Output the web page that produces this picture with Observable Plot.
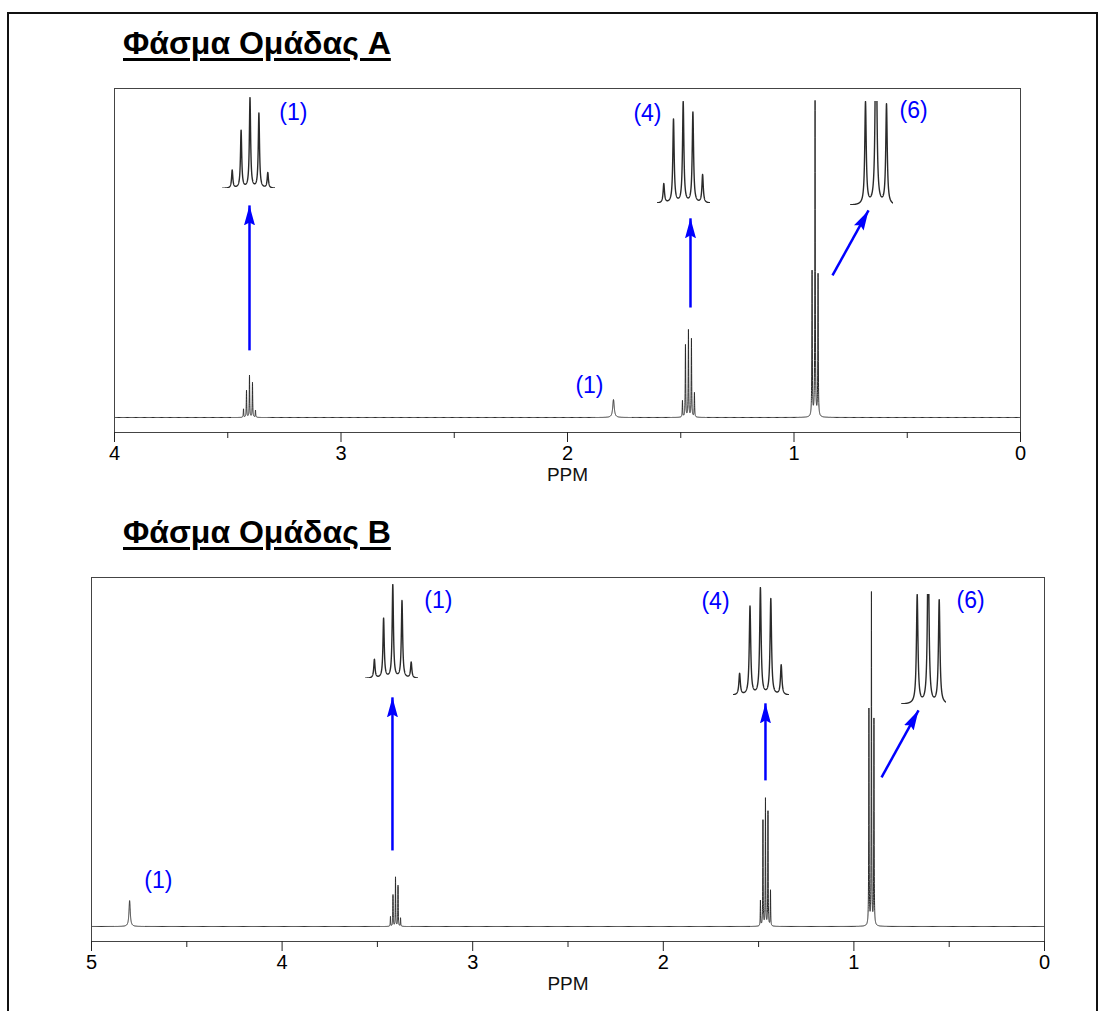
<!DOCTYPE html>
<html><head><meta charset="utf-8">
<script src="https://cdn.jsdelivr.net/npm/d3@7"></script>
<script src="https://cdn.jsdelivr.net/npm/@observablehq/plot@0.6"></script>
<style>
body{margin:0;background:#fff;font-family:"Liberation Sans",Arial,sans-serif;}
#page{position:relative;width:1104px;height:1011px;overflow:hidden;background:#fff;}
#border{position:absolute;left:7px;top:12px;width:1091px;height:1100px;border:2px solid #111;box-sizing:border-box;}
.title{position:absolute;left:123px;font-family:"Liberation Sans",Arial,sans-serif;font-weight:bold;font-size:32px;line-height:36px;text-decoration:underline;text-decoration-thickness:3px;text-underline-offset:4px;color:#000;white-space:nowrap;}
.abs{position:absolute;}
</style></head><body>
<div id="page">
  <div id="border"></div>
  <div class="title" id="titleA" style="top:25px">Φάσμα Ομάδας A</div>
  <div class="title" id="titleB" style="top:514px">Φάσμα Ομάδας B</div>
  <div class="abs" id="plotA" style="left:0;top:80px"></div>
  <div class="abs" id="plotB" style="left:0;top:568px"></div>
  <div id="insets"></div>
</div>
<script>
// ---------- data ----------
const coupling = 0.0132;                 // line spacing within a multiplet (ppm)

// Spectrum A: multiplet centres (ppm), tallest-line heights, relative line intensities, linewidths
const shiftsA   = [3.404, 1.797, 1.466, 0.907];
const heightsA  = [13.3, 5.7, 27.6, 100];
const patternsA = [[0.20, 0.64, 1, 0.83, 0.17], [1], [0.19, 0.83, 1, 0.90, 0.28], [0.46, 1, 0.45]];
const widthsA   = [0.0011, 0.004, 0.0011, 0.0011];

// Spectrum B
const shiftsB   = [4.80, 3.405, 1.464, 0.908];
const heightsB  = [7.8, 14.8, 38.3, 100];
const patternsB = [[1], [0.20, 0.64, 1, 0.83, 0.17], [0.20, 0.83, 1, 0.90, 0.28], [0.65, 1, 0.62]];
const widthsB   = [0.004, 0.0011, 0.0011, 0.0011];

// axis ticks
const majorTicksA = [4, 3, 2, 1, 0];
const minorTicksA = [3.5, 2.5, 1.5, 0.5];
const majorTicksB = [5, 4, 3, 2, 1, 0];
const minorTicksB = [4.5, 3.5, 2.5, 1.5, 0.5];

// annotations (ppm, intensity)
const labelTextA = ["(1)", "(4)", "(6)", "(1)"];
const labelXA    = [3.210, 1.647, 0.472, 1.903];
const labelYA    = [96.8, 96.5, 97.5, 10.2];
const labelTextB = ["(1)", "(1)", "(4)", "(6)"];
const labelXB    = [4.649, 3.180, 1.726, 0.388];
const labelYB    = [13.9, 98.2, 97.9, 98.2];

const arrowX1A = [3.404, 1.457, 0.830], arrowY1A = [21.3, 34.9, 45.1];
const arrowX2A = [3.404, 1.457, 0.671], arrowY2A = [67.3, 63.2, 65.7];
const arrowX1B = [3.421, 1.464, 0.855], arrowY1B = [22.9, 44.0, 44.9];
const arrowX2B = [3.421, 1.464, 0.661], arrowY2B = [69.0, 67.2, 65.1];

// ---------- helpers ----------
function lineList(shifts, heights, patterns, widths) {
  const out = [];
  shifts.forEach((c, k) => {
    const p = patterns[k];
    p.forEach((r, i) => out.push({x0: c + ((p.length - 1) / 2 - i) * coupling, h: heights[k] * r, w: widths[k]}));
  });
  return out;
}
function intensity(lines, x) {
  let s = 0;
  for (const l of lines) { const d = x - l.x0; s += l.h * l.w * l.w / (l.w * l.w + d * d); }
  return s;
}
function sampleSpectrum(lines, shifts, xmin, xmax) {
  const xs = [];
  for (let x = xmin; x <= xmax + 1e-9; x += 0.005) xs.push(x);
  for (const c of shifts) for (let x = c - 0.08; x <= c + 0.08; x += 0.0002) if (x >= xmin && x <= xmax) xs.push(x);
  xs.sort((a, b) => a - b);
  return xs.map(x => ({ppm: x, y: intensity(lines, x)}));
}
function headMarker(color, context) {
  const doc = (context && context.document) || document;
  const ns = "http://www.w3.org/2000/svg";
  const m = doc.createElementNS(ns, "marker");
  m.setAttribute("viewBox", "-20 -6 20 12");
  m.setAttribute("markerWidth", 20);
  m.setAttribute("markerHeight", 12);
  m.setAttribute("refX", 0);
  m.setAttribute("refY", 0);
  m.setAttribute("orient", "auto");
  m.setAttribute("markerUnits", "userSpaceOnUse");
  const p = doc.createElementNS(ns, "path");
  p.setAttribute("d", "M-20,-5.5L0,0L-20,5.5L-17,0Z");
  p.setAttribute("fill", color);
  p.setAttribute("stroke", "none");
  m.appendChild(p);
  return m;
}

function panel(cfg) {
  const lines = lineList(cfg.shifts, cfg.heights, cfg.patterns, cfg.widths);
  const pts = sampleSpectrum(lines, cfg.shifts, 0, cfg.xmax);
  const labels = cfg.labelText.map((t, i) => ({t, x: cfg.labelX[i], y: cfg.labelY[i]}));
  const arrows = cfg.ax1.map((v, i) => ({x1: v, y1: cfg.ay1[i], x2: cfg.ax2[i], y2: cfg.ay2[i]}));
  const plot = Plot.plot({
    width: 1104, height: cfg.height,
    marginLeft: cfg.mL, marginRight: cfg.mR, marginTop: cfg.mT, marginBottom: cfg.mB,
    style: {fontFamily: "Liberation Sans, Arial, sans-serif", background: "transparent", overflow: "visible"},
    x: {domain: [cfg.xmax, 0], label: null},
    y: {domain: cfg.ydomain, axis: null},
    marks: [
      Plot.line(pts, {x: "ppm", y: "y", stroke: "#2b2b2b", strokeWidth: 1, clip: true}),
      Plot.frame({stroke: "#444", strokeWidth: 1}),
      Plot.axisX(cfg.major, {anchor: "bottom", tickSize: 10, tickPadding: 3, fontSize: 20, tickFormat: d => String(d), label: null, stroke: "#222"}),
      Plot.axisX(cfg.minor, {anchor: "bottom", tickSize: 6, tickFormat: () => "", label: null, stroke: "#222"}),
      Plot.text(["PPM"], {frameAnchor: "bottom", dy: 35, lineAnchor: "top", fontSize: 19, fill: "#111"}),
      Plot.link(arrows, {x1: "x1", y1: "y1", x2: "x2", y2: "y2", stroke: "#0000ff", strokeWidth: 2.5, markerEnd: headMarker}),
      Plot.text(labels, {x: "x", y: "y", text: "t", fill: "#0000ff", fontSize: 23})
    ]
  });
  return {plot, lines};
}

const A = panel({shifts: shiftsA, heights: heightsA, patterns: patternsA, widths: widthsA, xmax: 4,
  height: 410, mL: 114, mR: 84, mT: 8, mB: 58, ydomain: [-4.76, 104.4],
  major: majorTicksA, minor: minorTicksA,
  labelText: labelTextA, labelX: labelXA, labelY: labelYA,
  ax1: arrowX1A, ay1: arrowY1A, ax2: arrowX2A, ay2: arrowY2A});
const B = panel({shifts: shiftsB, heights: heightsB, patterns: patternsB, widths: widthsB, xmax: 5,
  height: 432, mL: 91, mR: 60, mT: 9, mB: 59, ydomain: [-4.52, 105.1],
  major: majorTicksB, minor: minorTicksB,
  labelText: labelTextB, labelX: labelXB, labelY: labelYB,
  ax1: arrowX1B, ay1: arrowY1B, ax2: arrowX2B, ay2: arrowY2B});
document.getElementById("plotA").appendChild(A.plot);
document.getElementById("plotB").appendChild(B.plot);

// ---------- zoomed insets (layout) ----------
const insetLayout = [
  {lines: A.lines, shift: shiftsA[0], topLine: 2, left: 222, right: 275, top: 97, base: 188, cx: 249.5, pxPerJ: 8.9},
  {lines: A.lines, shift: shiftsA[2], topLine: 2, left: 657, right: 710, top: 101, base: 203, cx: 682.7, pxPerJ: 9.7},
  {lines: A.lines, shift: shiftsA[3], topLine: 0, left: 850, right: 893, top: 101, base: 205, cx: 875.5, pxPerJ: 10.5},
  {lines: B.lines, shift: shiftsB[1], topLine: 2, left: 365, right: 418, top: 584, base: 678, cx: 392.3, pxPerJ: 9.2},
  {lines: B.lines, shift: shiftsB[2], topLine: 2, left: 733, right: 789, top: 587, base: 695, cx: 759.9, pxPerJ: 10.4},
  {lines: B.lines, shift: shiftsB[3], topLine: 0, left: 901, right: 946, top: 594, base: 704, cx: 927.7, pxPerJ: 11}
];
const insetHost = document.getElementById("insets");
for (const L of insetLayout) {
  const x0 = L.shift + (L.cx - L.left) / L.pxPerJ * coupling;
  const x1 = L.shift - (L.right - L.cx) / L.pxPerJ * coupling;
  const pts = [];
  const n = 600;
  for (let i = 0; i <= n; i++) { const x = x1 + (x0 - x1) * i / n; pts.push({ppm: x, y: intensity(L.lines, x)}); }
  const near = L.lines.filter(l => Math.abs(l.x0 - L.shift) < 0.05).sort((a, b) => b.x0 - a.x0);
  const ymax = intensity(L.lines, near[L.topLine].x0);
  const h = L.base - L.top + 2;
  const p = Plot.plot({
    width: L.right - L.left, height: h, margin: 0, marginBottom: 2,
    style: {background: "transparent", overflow: "visible"},
    x: {domain: [x0, x1], axis: null},
    y: {domain: [0, ymax], axis: null},
    marks: [Plot.line(pts, {x: "ppm", y: "y", stroke: "#2a2a2a", strokeWidth: 1.4, clip: true})]
  });
  const d = document.createElement("div");
  d.className = "abs";
  d.style.left = L.left + "px";
  d.style.top = L.top + "px";
  d.appendChild(p);
  insetHost.appendChild(d);
}
</script>
</body></html>
